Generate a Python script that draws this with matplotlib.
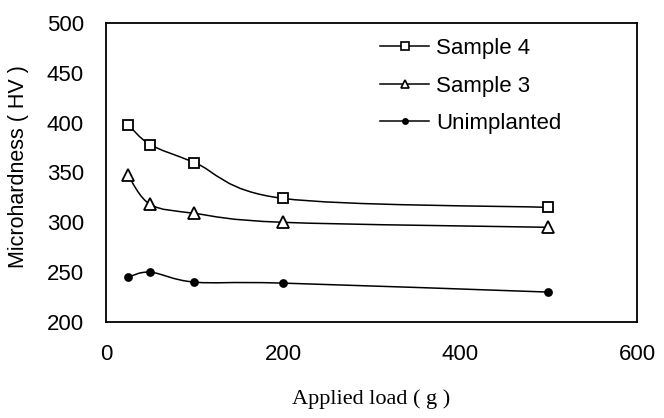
import numpy as np
from matplotlib import pyplot as plt
from matplotlib.path import Path
from matplotlib.patches import PathPatch

# applied load (g) and microhardness (HV)
LOADS = [25, 50, 100, 200, 500]
SAMPLE4 = [398, 378, 360, 324, 315]
SAMPLE3 = [347, 318, 309, 300, 295]
UNIMPLANTED = [245, 250, 240, 239, 230]

SANS = 'Liberation Sans'
SERIF = 'Liberation Serif'


def smooth_path(x, y):
	# excel-like smoothed line: catmull-rom segments as cubic beziers
	pts = np.column_stack([x, y]).astype(float)
	ext = np.vstack([pts[0], pts, pts[-1]])
	verts = [pts[0]]
	codes = [Path.MOVETO]
	for i in range(1, len(ext) - 2):
		p0, p1, p2, p3 = ext[i - 1], ext[i], ext[i + 1], ext[i + 2]
		verts += [p1 + (p2 - p0) / 6, p2 - (p3 - p1) / 6, p2]
		codes += [Path.CURVE4] * 3
	return Path(verts, codes)


def main():
	fig = plt.figure(figsize=(6.64, 4.18), dpi=100)
	ax = fig.add_axes([0.1596, 0.2297, 0.7997, 0.7153])

	series = [
		(SAMPLE4, 's', 7.5, 'none', 'Sample 4'),
		(SAMPLE3, '^', 8, 'none', 'Sample 3'),
		(UNIMPLANTED, 'o', 5, 'black', 'Unimplanted'),
	]
	for values, marker, size, face, label in series:
		ax.add_patch(PathPatch(smooth_path(LOADS, values), facecolor='none',
			edgecolor='black', lw=1.1))
		ax.plot(LOADS, values, ls='none', marker=marker, ms=size, mfc='white' if face == 'none' else face,
			mec='black', mew=1.3, zorder=3)
		# proxy handle for the legend
		ax.plot([], [], color='black', lw=1.1, marker=marker, ms=size * 0.75,
			mfc='white' if face == 'none' else face, mec='black', mew=1.2, label=label)

	ax.set_xlim(0, 600)
	ax.set_ylim(200, 500)
	ax.set_xticks([0, 200, 400, 600])
	ax.set_yticks(np.arange(200, 501, 50))
	ax.tick_params(length=0, labelsize=16, pad=0)
	ax.tick_params(axis='y', pad=16)
	ax.tick_params(axis='x', pad=16)
	for lab in ax.get_xticklabels() + ax.get_yticklabels():
		lab.set_family(SANS)
	for sp in ax.spines.values():
		sp.set_linewidth(1.3)

	ax.set_xlabel('Applied load ( g )', family=SERIF, fontsize=16)
	ax.xaxis.set_label_coords(0.5, -0.225)
	ax.set_ylabel('Microhardness ( HV )', family=SANS, fontsize=15.5)
	ax.yaxis.set_label_coords(-0.145, 0.52)

	ax.legend(loc='upper left', bbox_to_anchor=(0.5, 0.98), frameon=False,
		prop={'family': SANS, 'size': 16}, handlelength=2.2, handletextpad=0.3,
		labelspacing=0.75, borderaxespad=0)

	fig.savefig('out.png', dpi=100)


if __name__ == '__main__':
	main()
